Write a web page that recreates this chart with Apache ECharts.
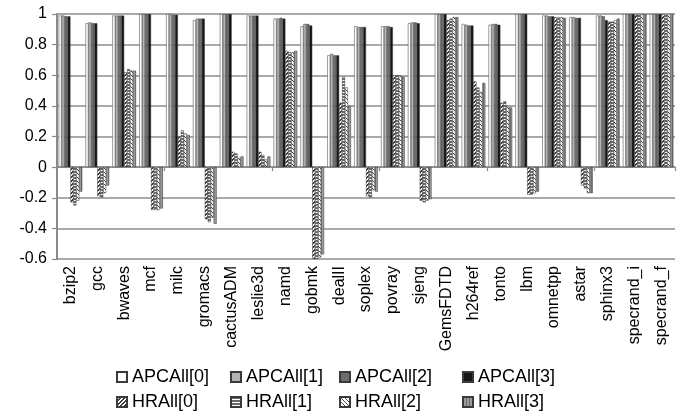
<!DOCTYPE html>
<html>
<head>
<meta charset="utf-8">
<script src="https://cdn.jsdelivr.net/npm/echarts@6/dist/echarts.min.js"></script>
<style>html,body{margin:0;padding:0;background:#fff}#c{width:682px;height:418px}</style>
</head>
<body>
<div id="c"></div>
<script>
const categories = ['bzip2','gcc','bwaves','mcf','milc','gromacs','cactusADM','leslie3d','namd','gobmk','dealII','soplex','povray','sjeng','GemsFDTD','h264ref','tonto','lbm','omnetpp','astar','sphinx3','specrand_i','specrand_f'];
const yTicks = [-0.6,-0.4,-0.2,0,0.2,0.4,0.6,0.8,1];
const apc0 = [0.99,0.94,0.99,1.0,1.0,0.96,1.0,0.99,0.97,0.92,0.73,0.92,0.92,0.94,1.0,0.935,0.93,1.0,0.99,0.98,0.99,1.0,1.0];
const apc1 = [0.99,0.945,0.99,1.0,1.0,0.97,1.0,0.99,0.97,0.935,0.74,0.915,0.92,0.945,1.0,0.93,0.935,1.0,0.99,0.98,0.99,1.0,1.0];
const apc2 = [0.985,0.94,0.99,1.0,0.995,0.97,1.0,0.99,0.975,0.935,0.73,0.915,0.92,0.945,1.0,0.925,0.935,1.0,0.985,0.975,0.985,1.0,1.0];
const apc3 = [0.985,0.94,0.99,1.0,0.995,0.97,1.0,0.99,0.97,0.925,0.73,0.915,0.915,0.94,1.0,0.925,0.93,1.0,0.985,0.975,0.96,1.0,1.0];
const hr0 = [-0.23,-0.19,0.62,-0.28,0.2,-0.34,0.1,0.1,0.76,-0.6,0.42,-0.19,0.6,-0.22,0.96,0.56,0.42,-0.18,0.98,-0.12,0.95,1.0,1.0];
const hr1 = [-0.25,-0.2,0.64,-0.28,0.24,-0.36,0.09,0.08,0.75,-0.6,0.59,-0.2,0.6,-0.23,0.97,0.52,0.43,-0.18,0.98,-0.14,0.95,1.0,1.0];
const hr2 = [-0.22,-0.17,0.63,-0.28,0.22,-0.33,0.06,0.05,0.75,-0.59,0.52,-0.15,0.6,-0.22,0.98,0.49,0.4,-0.17,0.98,-0.17,0.96,1.0,1.0];
const hr3 = [-0.16,-0.12,0.63,-0.27,0.21,-0.37,0.07,0.07,0.76,-0.57,0.4,-0.16,0.59,-0.21,0.98,0.55,0.39,-0.16,0.975,-0.17,0.97,1.0,1.0];
const seriesNames = ['APCAll[0]','APCAll[1]','APCAll[2]','APCAll[3]','HRAll[0]','HRAll[1]','HRAll[2]','HRAll[3]'];

function pattern(size, draw) {
  const c = document.createElement('canvas');
  c.width = size; c.height = size;
  const g = c.getContext('2d');
  g.fillStyle = '#fff'; g.fillRect(0, 0, size, size);
  draw(g, size);
  return { image: c, repeat: 'repeat' };
}
const patSlash = pattern(4, (g, s) => { g.fillStyle = '#3a3a3a'; for (let i = 0; i < s; i++) { g.fillRect(i, s - 1 - i, 1, 1); g.fillRect((i + 1) % s, s - 1 - i, 1, 1); } });
const patHoriz = pattern(3, (g, s) => { g.fillStyle = '#6a6a6a'; g.fillRect(0, 0, s, 2); });
const patBack = pattern(4, (g, s) => { g.fillStyle = '#4a4a4a'; for (let i = 0; i < s; i++) { g.fillRect(i, i, 1, 1); } });
const patVert = pattern(3, (g, s) => { g.fillStyle = '#9a9a9a'; g.fillRect(0, 0, s, s); g.fillStyle = '#6f6f6f'; g.fillRect(0, 0, 1, s); });

const fills = ['#ffffff', '#b4b4b4', '#6e6e6e', '#161616', patSlash, patHoriz, patBack, patVert];
const dataSets = [apc0, apc1, apc2, apc3, hr0, hr1, hr2, hr3];
const font = "'Liberation Sans', Arial, sans-serif";

const series = seriesNames.map((n, i) => ({
  name: n, type: 'bar', xAxisIndex: 0, data: dataSets[i],
  barGap: '0%', barCategoryGap: '12%',
  itemStyle: { color: fills[i], borderColor: '#3a3a3a', borderWidth: 0.5 }
}));

const legendX = [116, 230, 339, 462];
const legends = seriesNames.map((n, i) => ({
  data: [n], left: legendX[i % 4], top: i < 4 ? 368 : 393,
  itemWidth: 10, itemHeight: 10, icon: 'rect', padding: 0,
  textStyle: { fontSize: 18, color: '#000', fontFamily: font }
}));

const chart = echarts.init(document.getElementById('c'), null, { renderer: 'canvas' });
chart.setOption({
  animation: false,
  backgroundColor: '#fff',
  grid: { left: 57, right: 7, top: 14, bottom: 159 },
  legend: legends,
  xAxis: [
    { type: 'category', data: categories, position: 'bottom',
      axisLine: { show: false, onZero: false }, axisTick: { show: false },
      axisLabel: { rotate: 90, interval: 0, fontSize: 16, color: '#000', fontFamily: font, margin: 7 } },
    { type: 'category', data: categories, position: 'bottom',
      axisLine: { show: true, onZero: true, lineStyle: { color: '#8a8a8a', width: 1.5 } },
      axisTick: { show: true, length: 4, lineStyle: { color: '#8a8a8a', width: 1.2 } },
      axisLabel: { show: false } }
  ],
  yAxis: {
    type: 'value', min: yTicks[0], max: yTicks[yTicks.length - 1], interval: 0.2,
    axisLine: { show: true, lineStyle: { color: '#8a8a8a', width: 2 } },
    axisTick: { show: true, length: 5, lineStyle: { color: '#8a8a8a', width: 1.2 } },
    splitLine: { show: true, lineStyle: { color: '#8c8c8c', width: 1.5 } },
    axisLabel: { fontSize: 16, color: '#000', fontFamily: font, margin: 10,
      formatter: v => String(+v.toFixed(1)) }
  },
  series: series
});
</script>
</body>
</html>
